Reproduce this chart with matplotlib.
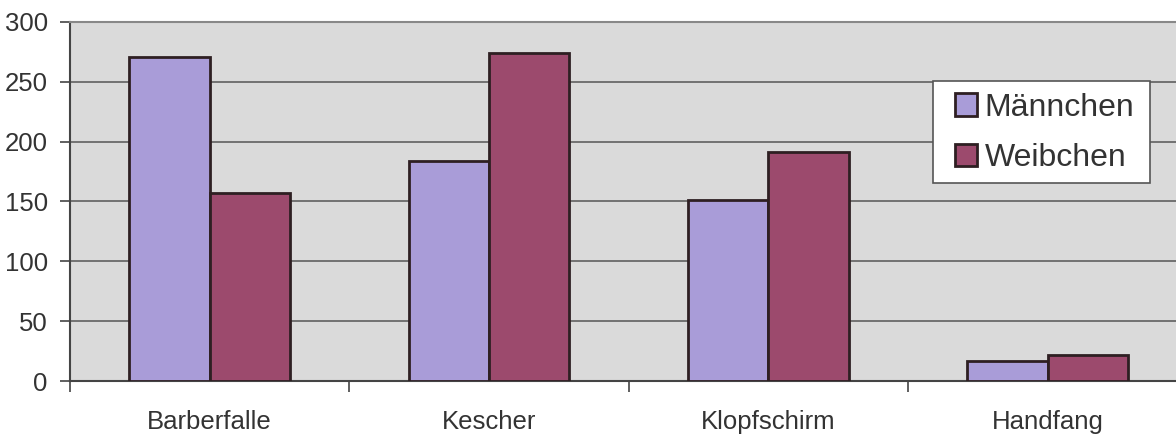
import matplotlib
matplotlib.use("Agg")
import matplotlib.pyplot as plt
import numpy as np
from matplotlib.patches import Patch, Rectangle

categories = ["Barberfalle", "Kescher", "Klopfschirm", "Handfang"]
series_names = ["Männchen", "Weibchen"]
maennchen = [271, 184, 151, 17]
weibchen = [157, 274, 191, 22]
yticks = [0, 50, 100, 150, 200, 250, 300]

plt.rcParams['font.family'] = ['Liberation Sans', 'DejaVu Sans']

W, H = 1176, 436
fig = plt.figure(figsize=(W / 100, H / 100), dpi=100)
fig.patch.set_facecolor('white')

left_px, right_px, top_px, bottom_px = 70, 70 + 4 * 279.3, 22, 381
ax = fig.add_axes([left_px / W, 1 - bottom_px / H,
                   (right_px - left_px) / W, (bottom_px - top_px) / H])
ax.set_facecolor('#dadada')

c_m = '#a99cd8'
c_w = '#9c4a6d'
edge = '#2e1f22'
bw = 0.288
x = np.arange(len(categories))

ax.set_axisbelow(True)
ax.yaxis.grid(True, color='#555555', linewidth=1.1)
ax.bar(x - bw / 2, maennchen, width=bw, color=c_m, edgecolor=edge, linewidth=2, zorder=3)
ax.bar(x + bw / 2, weibchen, width=bw, color=c_w, edgecolor=edge, linewidth=2, zorder=3)

ax.set_xlim(-0.5, len(categories) - 0.5)
ax.set_ylim(0, 300)
ax.set_yticks(yticks)
ax.set_yticklabels([str(v) for v in yticks], fontsize=18.5, color='#333333')
ax.tick_params(axis='y', length=7, width=1.2, color='#444444', pad=9)

ax.set_xticks(np.arange(len(categories) + 1) - 0.5)
ax.set_xticklabels([])
ax.set_xticks(x, minor=True)
ax.set_xticklabels(categories, minor=True, fontsize=18.5, color='#333333')
ax.tick_params(axis='x', which='major', length=8, width=1.2, color='#444444', direction='out')
ax.tick_params(axis='x', which='minor', length=0, pad=21)

ax.spines['right'].set_visible(False)
ax.spines['top'].set_color('#888888')
ax.spines['top'].set_linewidth(1.5)
ax.spines['left'].set_color('#444444')
ax.spines['left'].set_linewidth(1.5)
ax.spines['bottom'].set_color('#444444')
ax.spines['bottom'].set_linewidth(1.5)

# legend frame
fig.patches.append(Rectangle((933 / W, 1 - 183 / H), (1150 - 933) / W, (183 - 81) / H,
                             transform=fig.transFigure, facecolor='white',
                             edgecolor='#555555', linewidth=1.2, zorder=5))

handles = [Patch(facecolor=c_m, edgecolor=edge, linewidth=2),
           Patch(facecolor=c_w, edgecolor=edge, linewidth=2)]
leg = fig.legend(handles, series_names, loc='center left',
                 bbox_to_anchor=(955 / W, 1 - 133 / H), bbox_transform=fig.transFigure,
                 fontsize=23, frameon=False, borderaxespad=0, borderpad=0,
                 handlelength=0.7, handleheight=0.7, handletextpad=0.22,
                 labelspacing=0.65)
leg.set_zorder(6)
for t in leg.get_texts():
    t.set_color('#333333')

fig.savefig('out.png', dpi=100)
